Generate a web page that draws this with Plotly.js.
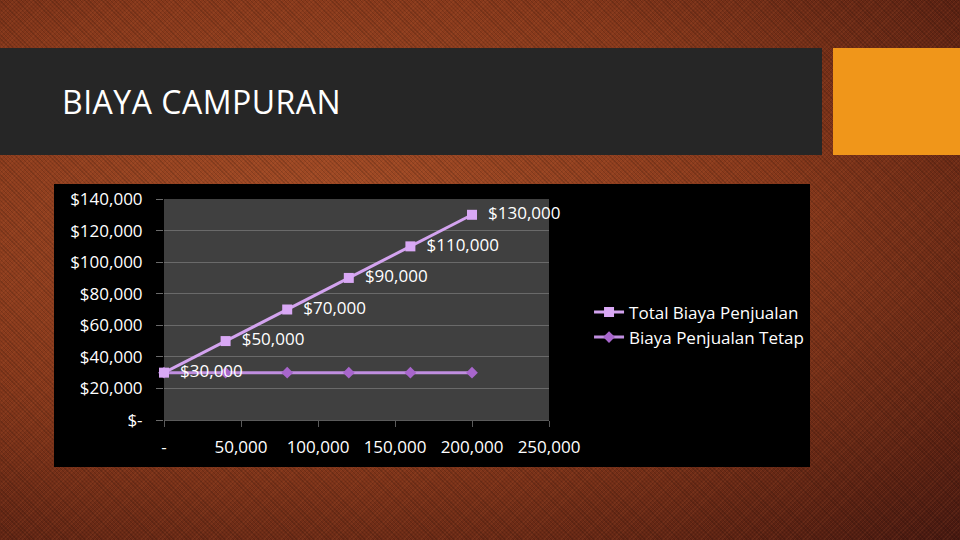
<!DOCTYPE html>
<html>
<head>
<meta charset="utf-8">
<script src="https://cdn.plot.ly/plotly-3.0.1.min.js"></script>
<style>
  html, body { margin: 0; padding: 0; width: 960px; height: 540px; overflow: hidden; }
  #slide {
    position: relative; width: 960px; height: 540px;
    background:
      repeating-linear-gradient(45deg, rgba(0,0,0,0.14) 0px, rgba(0,0,0,0.14) 1px, rgba(0,0,0,0) 1px, rgba(0,0,0,0) 3px),
      repeating-linear-gradient(-45deg, rgba(255,140,80,0.08) 0px, rgba(255,140,80,0.08) 1px, rgba(0,0,0,0) 1px, rgba(0,0,0,0) 3px),
      radial-gradient(ellipse at 35% 40%, #a24c26 0%, #86381b 50%, #5a2112 85%, #461810 100%);
  }
  #titlebar { position: absolute; left: 0; top: 48px; width: 822px; height: 107px; background: #262626; }
  #title { position: absolute; left: 62px; top: 78px; color: #ffffff; font-family: "Open Sans", sans-serif; font-size: 32px; line-height: 48px; letter-spacing: 0.5px; white-space: nowrap; }
  #accent { position: absolute; left: 833px; top: 48px; width: 127px; height: 107px; background: #f0961a; }
  #chart { position: absolute; left: 54px; top: 184px; width: 756px; height: 283px; }
</style>
</head>
<body>
<div id="slide">
  <div id="titlebar"></div>
  <div id="title">BIAYA CAMPURAN</div>
  <div id="accent"></div>
  <div id="chart"></div>
</div>
<script>
const units = [0, 40000, 80000, 120000, 160000, 200000];
const totalCost = [30000, 50000, 70000, 90000, 110000, 130000];
const fixedCost = [30000, 30000, 30000, 30000, 30000, 30000];
const seriesNames = ["Total Biaya Penjualan", "Biaya Penjualan Tetap"];
const xTickVals = [0, 50000, 100000, 150000, 200000, 250000];
const xTickText = ["-", "50,000", "100,000", "150,000", "200,000", "250,000"];
const yTickVals = [0, 20000, 40000, 60000, 80000, 100000, 120000, 140000];
const yTickText = ["$-", "$20,000", "$40,000", "$60,000", "$80,000", "$100,000", "$120,000", "$140,000"];

const fontFam = '"Open Sans", sans-serif';

// Fixed series drawn first so the Total series labels sit on top; legend order reversed.
const traces = [
  {
    x: units, y: fixedCost, name: seriesNames[1],
    type: 'scatter', mode: 'lines+markers',
    line: { color: '#c08ee0', width: 3 },
    marker: { symbol: 'diamond', size: 9, color: '#a866cc' },
    cliponaxis: false
  },
  {
    x: units, y: totalCost, name: seriesNames[0],
    type: 'scatter', mode: 'lines+markers+text',
    line: { color: '#d3a3ef', width: 3 },
    marker: { symbol: 'square', size: 10, color: '#d9a8f5' },
    texttemplate: '\u00a0\u00a0$%{y:,.0f}', textposition: 'middle right',
    textfont: { color: '#ffffff', size: 17, family: fontFam },
    cliponaxis: false
  }
];

const layout = {
  width: 756, height: 283,
  margin: { l: 110, r: 261, t: 15, b: 47, pad: 0, autoexpand: false },
  paper_bgcolor: '#000000',
  plot_bgcolor: '#404040',
  font: { family: fontFam, color: '#ffffff', size: 17 },
  showlegend: true,
  legend: {
    x: 1.104, y: 0.43, xanchor: 'left', yanchor: 'middle',
    traceorder: 'reversed',
    bgcolor: 'rgba(0,0,0,0)', font: { size: 17, color: '#ffffff', family: fontFam },
    itemwidth: 30, tracegroupgap: 0
  },
  xaxis: {
    range: [0, 250000], tickvals: xTickVals, ticktext: xTickText,
    showgrid: false, zeroline: false, showline: true, linecolor: '#5a5a5a', linewidth: 1,
    ticks: 'outside', ticklen: 6, tickcolor: '#5a5a5a', ticklabelstandoff: 6,
    tickfont: { size: 17, color: '#ffffff', family: fontFam }
  },
  yaxis: {
    range: [0, 140000], tickvals: yTickVals, ticktext: yTickText,
    showgrid: true, gridcolor: '#6a6a6a', gridwidth: 1, zeroline: false,
    showline: false, ticks: 'outside', ticklen: 7, tickcolor: '#6a6a6a', ticklabelstandoff: 10,
    tickfont: { size: 17, color: '#ffffff', family: fontFam }
  }
};

Plotly.newPlot('chart', traces, layout, { displayModeBar: false, staticPlot: true });
</script>
</body>
</html>
